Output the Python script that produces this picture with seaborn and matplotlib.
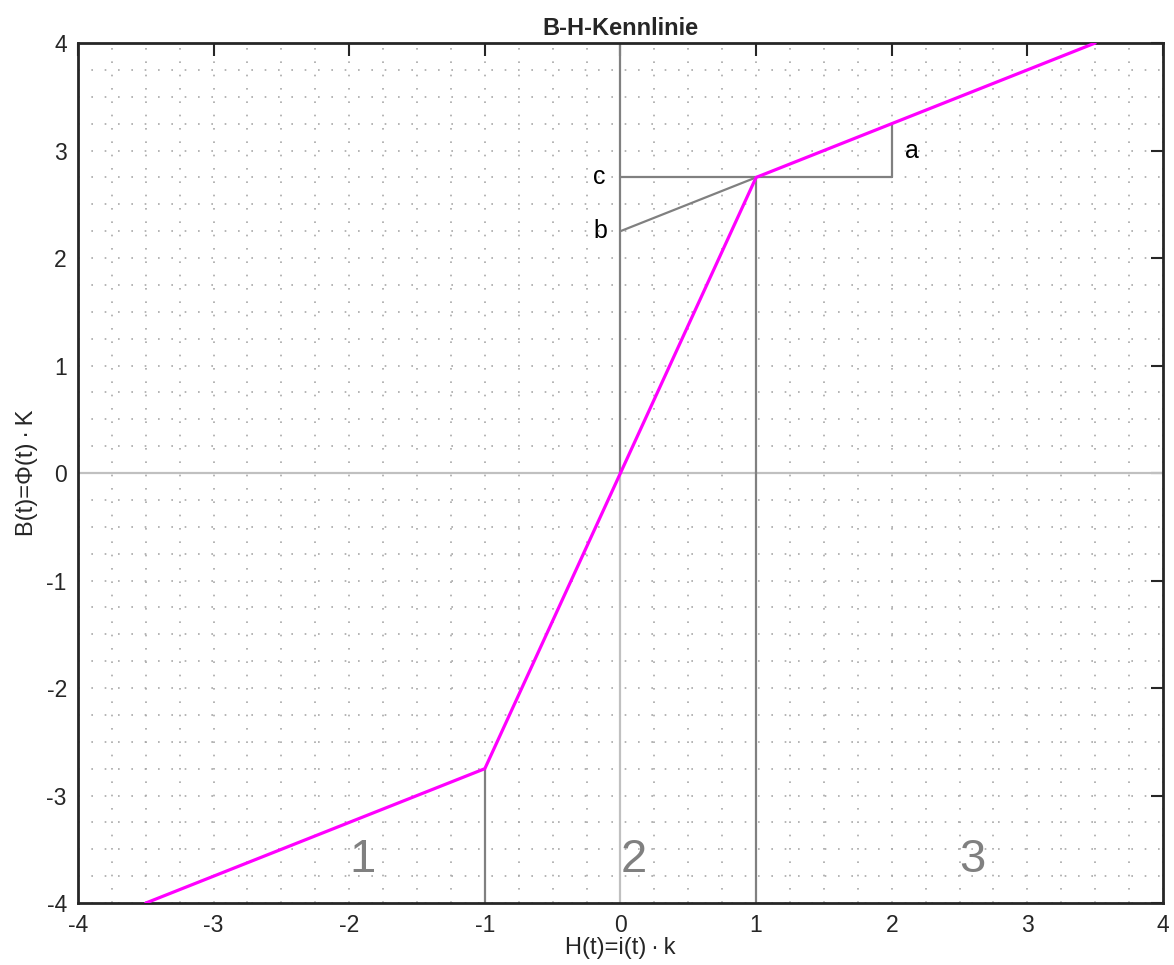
import numpy as np
import pandas as pd
import matplotlib
matplotlib.use("Agg")
import matplotlib.pyplot as plt
import seaborn as sns
from matplotlib.ticker import MultipleLocator

# --- data ---
H_curve = [-3.5, -1.0, 1.0, 3.5]
B_curve = [-4.0, -2.75, 2.75, 4.0]

# helper construction lines (x list, y list)
axis_x0_upper = ([0, 0], [0, 4])
axis_x0_lower = ([0, 0], [-4, 0])
axis_y0 = ([-4, 4], [0, 0])
vline_neg1 = ([-1, -1], [-4, -2.75])
vline_pos1 = ([1, 1], [-4, 2.75])
hline_c = ([0, 2], [2.75, 2.75])
vline_a = ([2, 2], [2.75, 3.25])
line_b = ([0, 1], [2.25, 2.75])

letters = ["a", "b", "c"]
letters_x = [2.1, -0.2, -0.2]
letters_y = [3.0, 2.25, 2.75]

regions = ["1", "2", "3"]
regions_x = [-2.0, 0.0, 2.5]
regions_y = [-3.6, -3.6, -3.6]

xticks = [-4, -3, -2, -1, 0, 1, 2, 3, 4]
yticks = [-4, -3, -2, -1, 0, 1, 2, 3, 4]

sns.set_theme(style="white")
plt.rcParams['font.family'] = ['Liberation Sans', 'DejaVu Sans']

fig = plt.figure(figsize=(11.74, 9.65), dpi=100)
ax = fig.add_axes([0.0664, 0.0642, 0.9906 - 0.0664, 0.9554 - 0.0642])

# grid (dotted, major+minor)
ax.xaxis.set_minor_locator(MultipleLocator(0.25))
ax.yaxis.set_minor_locator(MultipleLocator(0.25))
ax.grid(True, which='both', color='#a8a8a8', linestyle=(0, (1, 7)), linewidth=1.2, zorder=0)

dark = '#808080'
light = '#c0c0c0'
ax.plot(*axis_y0, color=light, lw=1.6, zorder=2)
ax.plot(*axis_x0_lower, color=light, lw=1.6, zorder=2)
ax.plot(*axis_x0_upper, color=dark, lw=1.6, zorder=2)
for seg in (vline_neg1, vline_pos1, hline_c, vline_a, line_b):
    ax.plot(*seg, color=dark, lw=1.6, zorder=2)

df = pd.DataFrame({"H": H_curve, "B": B_curve})
sns.lineplot(data=df, x="H", y="B", sort=False, color='#ff00ff', lw=2.3, ax=ax, zorder=3)

for t, x, y in zip(letters, letters_x, letters_y):
    ax.text(x, y, t, fontsize=18, ha='left', va='center', color='black')
for t, x, y in zip(regions, regions_x, regions_y):
    ax.text(x, y, t, fontsize=34, ha='left', va='center', color=dark)

ax.set_xlim(-4, 4)
ax.set_ylim(-4, 4)
ax.set_xticks(xticks)
ax.set_yticks(yticks)
ax.set_xticklabels([str(v) for v in xticks])
ax.set_yticklabels([str(v) for v in yticks])
ax.tick_params(which='major', direction='in', length=9, width=1.5, top=True, right=True,
               labelsize=16.5, colors='#262626', pad=8)
ax.tick_params(which='minor', length=0)
for s in ax.spines.values():
    s.set_visible(True)
    s.set_color('#262626')
    s.set_linewidth(2)

ax.set_title("B-H-Kennlinie", fontsize=17, fontweight='bold', pad=6)
ax.set_xlabel("H(t)=i(t)\u2009\u00b7\u2009k", fontsize=17, labelpad=0)
ax.set_ylabel("B(t)=\u03a6(t)\u2009\u00b7\u2009K", fontsize=17, labelpad=6)

fig.savefig("out.png", dpi=100)
